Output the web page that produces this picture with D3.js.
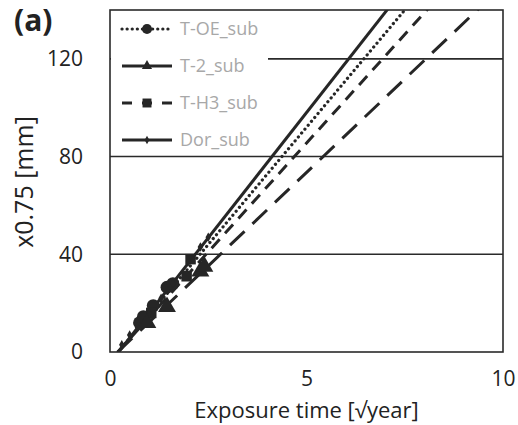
<!DOCTYPE html>
<html><head><meta charset="utf-8">
<script src="https://cdn.jsdelivr.net/npm/d3@7"></script>
<style>body{margin:0;background:#fff}svg{display:block;font-family:"Open Sans","Liberation Sans",sans-serif}</style>
</head><body><svg id="c" width="518" height="425"></svg>
<script>
const seriesNames = ["T-OE_sub","T-2_sub","T-H3_sub","Dor_sub"];
const slopes = [19.2, 15.3, 17.8, 20.5];
const intercepts = [-4, -3, -3.5, -4.5];
const ptsOE_x = [0.75, 0.85, 1.1, 1.45, 1.6];
const ptsOE_y = [12, 14.5, 19, 26.5, 28];
const pts2_x = [0.95, 1.45, 2.3, 2.4];
const pts2_y = [12, 18.5, 33, 35];
const ptsH3_x = [0.9, 1.05, 1.95, 2.05];
const ptsH3_y = [13, 16, 31, 38];
const ptsDor_x = [0.3, 0.5, 0.7, 1.0, 1.3, 1.6, 2.0, 2.3, 2.5];
const ptsDor_y = [3, 7, 10, 16, 22, 28, 37, 43, 47];
const xTicks = [0, 5, 10];
const yTicks = [0, 40, 80, 120];

const svg = d3.select("#c");
const L = 110, R = 503, T = 10, B = 352;
const x = d3.scaleLinear().domain([0, 10]).range([L, R]);
const y = d3.scaleLinear().domain([0, 140]).range([B, T]);
const ink = "#262626";
const FF = "Open Sans, Liberation Sans, sans-serif";

svg.append("clipPath").attr("id","clip").append("rect").attr("x",L).attr("y",T).attr("width",R-L).attr("height",B-T);

// grid
svg.append("g").selectAll("line").data(yTicks.filter(d=>d>0)).join("line")
  .attr("x1",L).attr("x2",R).attr("y1",d=>y(d)).attr("y2",d=>y(d))
  .attr("stroke","#2a2a2a").attr("stroke-width",1.6);

// axes tick labels
const yAxis = d3.axisLeft(y).tickValues(yTicks).tickSize(0).tickPadding(27);
const gy = svg.append("g").attr("transform",`translate(${L},0)`).call(yAxis);
gy.select(".domain").remove();
gy.selectAll("text").attr("font-size",21).attr("fill","#222").attr("font-family",FF);
const xAxis = d3.axisBottom(x).tickValues(xTicks).tickSize(0).tickPadding(19);
const gx = svg.append("g").attr("transform",`translate(0,${B})`).call(xAxis);
gx.select(".domain").remove();
gx.selectAll("text").attr("font-size",21).attr("fill","#222").attr("font-family",FF);

// trend lines
const dashes = ["0.1,5", "20,11", "12,8", null];
const caps = ["round","butt","butt","butt"];
const widths = [3.2, 3, 3, 3];
const lg = svg.append("g").attr("clip-path","url(#clip)");
seriesNames.forEach((n,i)=>{
  const x0 = -intercepts[i]/slopes[i];
  const x1 = (150 - intercepts[i])/slopes[i];
  lg.append("line")
    .attr("x1",x(x0)).attr("y1",y(0)).attr("x2",x(x1)).attr("y2",y(150))
    .attr("stroke",ink).attr("stroke-width",widths[i])
    .attr("stroke-dasharray",dashes[i]).attr("stroke-linecap",caps[i]);
});

// markers
const mk = svg.append("g").attr("fill",ink);
const sym = [d3.symbolCircle, d3.symbolTriangle, d3.symbolSquare, d3.symbolDiamond];
const sizes = [130, 140, 110, 26];
const ptsX = [ptsOE_x, pts2_x, ptsH3_x, ptsDor_x];
const ptsY = [ptsOE_y, pts2_y, ptsH3_y, ptsDor_y];
[0,2,1,3].forEach(i=>{
  ptsX[i].forEach((v,j)=>{
    mk.append("path").attr("d",d3.symbol(sym[i],sizes[i])())
      .attr("transform",`translate(${x(v)},${y(ptsY[i][j])})`);
  });
});

// legend box
const leg = svg.append("g");
leg.append("rect").attr("x",L+1).attr("y",T+1).attr("width",157).attr("height",144).attr("fill","#fff");
const ly = [29, 66, 103, 140];
const legDash = ["0.1,5", null, "10,10", null];
seriesNames.forEach((n,i)=>{
  leg.append("line").attr("x1",122).attr("x2",172).attr("y1",ly[i]).attr("y2",ly[i])
    .attr("stroke",ink).attr("stroke-width",i===0?3.2:2.8)
    .attr("stroke-dasharray", legDash[i]).attr("stroke-linecap",caps[i]);
  leg.append("path").attr("d",d3.symbol(sym[i],i===3?20:(i===1?45:80))())
    .attr("transform",`translate(147,${ly[i]})`).attr("fill",ink);
  leg.append("text").attr("x",180).attr("y",ly[i]+6).attr("font-size",18).attr("fill","#a8a8a8").attr("font-family",FF).text(n);
});

// border
svg.append("rect").attr("x",L).attr("y",T).attr("width",R-L).attr("height",B-T)
  .attr("fill","none").attr("stroke","#2a2a2a").attr("stroke-width",1.6);

// titles
svg.append("text").attr("x",(L+R)/2).attr("y",418).attr("text-anchor","middle").attr("font-size",22).attr("fill","#222").text("Exposure time [√year]");
svg.append("text").attr("transform","translate(33,182) rotate(-90)").attr("text-anchor","middle").attr("font-size",25).attr("fill","#222").text("x0.75 [mm]");
svg.append("text").attr("x",14).attr("y",31).attr("font-size",30).attr("font-weight","bold").attr("fill","#222").text("(a)");
</script></body></html>
